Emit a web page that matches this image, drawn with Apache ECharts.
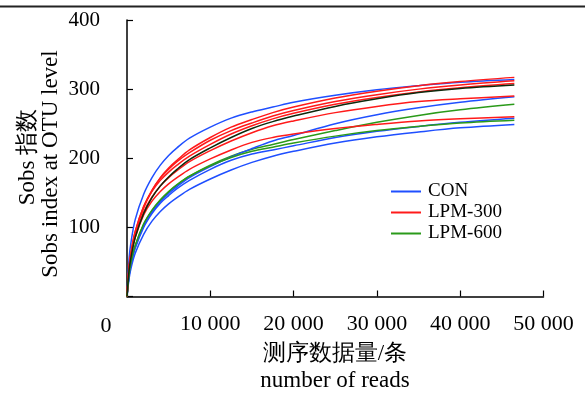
<!DOCTYPE html>
<html>
<head>
<meta charset="utf-8">
<script src="https://cdn.jsdelivr.net/npm/echarts@6/dist/echarts.min.js"></script>
<style>
html,body{margin:0;padding:0;background:#fff;}
#c{width:585px;height:398px;}
</style>
</head>
<body>
<div id="c"></div>
<script>
// sequencing depth (number of reads) at which each curve is sampled
const reads = [0, 250, 500, 1000, 2000, 3000, 4000, 5000, 6000, 7500, 10000, 12500, 15000, 17500, 20000, 25000, 30000, 35000, 40000, 46500];

// CON (blue)
const con1 = [0, 55, 80, 112, 148, 172, 190, 204, 215, 229, 245, 258, 267, 274, 281, 291, 299, 305, 310, 314];
const con2 = [0, 30, 48, 72, 102, 122, 137, 149, 159, 172, 188, 202, 214, 225, 233, 250, 263, 273, 281, 289];
const con3 = [0, 30, 47, 70, 100, 120, 135, 146, 156, 168, 184, 197, 206, 212, 218, 230, 239, 246, 252, 258];
const con4 = [0, 26, 42, 63, 90, 109, 123, 134, 143, 155, 170, 183, 194, 203, 210, 222, 231, 238, 244, 249];

// LPM-300 (red)
const lpm300a = [0, 40, 62, 92, 128, 153, 172, 186, 197, 212, 230, 245, 256, 266, 274, 287, 297, 305, 311, 317];
const lpm300b = [0, 42, 64, 94, 130, 154, 171, 184, 195, 208, 226, 240, 251, 261, 269, 282, 292, 300, 306, 312];
const lpm300c = [0, 44, 66, 95, 130, 152, 168, 180, 190, 203, 220, 235, 247, 257, 265, 278, 288, 296, 302, 308];
const lpm300d = [0, 40, 60, 88, 122, 144, 160, 172, 182, 195, 211, 225, 237, 247, 254, 266, 275, 282, 286, 290];
const lpm300e = [0, 40, 60, 86, 118, 138, 152, 163, 172, 184, 199, 212, 223, 230, 235, 243, 249, 254, 257, 260];

// LPM-600 (green, one drawn dark)
const lpm600a = [0, 32, 50, 74, 104, 124, 139, 151, 161, 174, 190, 203, 213, 220, 227, 240, 252, 262, 270, 278];
const lpm600b = [0, 32, 50, 74, 105, 125, 140, 152, 162, 174, 189, 201, 210, 216, 222, 232, 240, 246, 251, 255];
const lpm600c = [0, 38, 58, 86, 120, 143, 160, 173, 184, 198, 215, 230, 243, 253, 261, 275, 286, 295, 301, 306];

// axis ticks and texts
const xTicks = [0, 10000, 20000, 30000, 40000, 50000];
const yTicks = [0, 100, 200, 300, 400];
const groupNames = ['CON', 'LPM-300', 'LPM-600'];
const yTitle = ['Sobs 指数', 'Sobs index at OTU level'];
const xTitle = ['测序数据量/条', 'number of reads'];

const BLUE = '#1f4fff', RED = '#ff1a1a', GREEN = '#2a9a1a', DARK = '#0d2a0d';
const FONT = '"Liberation Serif","Times New Roman",serif';

function pts(vals) { return reads.map((r, i) => [r, vals[i]]); }
function mk(name, vals, color) {
  return {
    name: name, type: 'line', data: pts(vals), showSymbol: false, symbol: 'none',
    smooth: 0.35, color: color,
    lineStyle: { width: 1.5, color: color }, animation: false, silent: true
  };
}

const series = [
  mk('CON', con1, BLUE),
  mk('LPM-300', lpm300a, RED),
  mk('LPM-600', lpm600a, GREEN),
  mk('CON', con2, BLUE),
  mk('CON', con3, BLUE),
  mk('CON', con4, BLUE),
  mk('LPM-300', lpm300b, RED),
  mk('LPM-300', lpm300c, RED),
  mk('LPM-300', lpm300d, RED),
  mk('LPM-300', lpm300e, RED),
  mk('LPM-600', lpm600b, GREEN),
  mk('LPM-600', lpm600c, DARK)
];

const chart = echarts.init(document.getElementById('c'), null, { renderer: 'canvas' });
chart.setOption({
  animation: false,
  backgroundColor: '#fff',
  grid: { left: 127, right: 41.5, top: 20, bottom: 101.5, containLabel: false },
  legend: {
    data: groupNames, orient: 'vertical', left: 386, top: 177,
    icon: 'rect', itemWidth: 30, itemHeight: 2, itemGap: 2,
    textStyle: { fontFamily: FONT, fontSize: 19, lineHeight: 19, color: '#000', padding: [0, 0, 0, 2] },
    selectedMode: false
  },
  xAxis: {
    type: 'value', min: xTicks[0], max: xTicks[xTicks.length - 1], interval: 10000,
    axisLine: { lineStyle: { color: '#000', width: 1.5 } },
    axisTick: { inside: true, length: 6, lineStyle: { color: '#000', width: 1.2 } },
    splitLine: { show: false },
    axisLabel: {
      margin: 17, fontFamily: FONT, fontSize: 22, color: '#000',
      formatter: v => v === 0 ? '' : String(v).replace(/(\d)(?=(\d{3})+$)/g, '$1 ')
    }
  },
  yAxis: {
    type: 'value', min: yTicks[0], max: yTicks[yTicks.length - 1], interval: 100,
    axisLine: { show: true, lineStyle: { color: '#000', width: 1.5 } },
    axisTick: { show: true, inside: true, length: 6, lineStyle: { color: '#000', width: 1.2 } },
    splitLine: { show: false },
    axisLabel: { margin: 27, fontFamily: FONT, fontSize: 21, color: '#000', formatter: v => v === 0 ? '' : String(v) }
  },
  graphic: [
    { type: 'line', shape: { x1: 0, y1: 6.5, x2: 585, y2: 6.5 }, style: { stroke: '#222', lineWidth: 2 }, silent: true },
    { type: 'text', x: 106, y: 326, style: { text: '0', font: '22px ' + FONT, fill: '#000', align: 'center', verticalAlign: 'middle' }, silent: true },
    { type: 'text', x: 28, y: 157, rotation: Math.PI / 2, style: { text: yTitle[0], font: '23px ' + FONT, fill: '#000', align: 'center', verticalAlign: 'middle' }, silent: true },
    { type: 'text', x: 51, y: 164, rotation: Math.PI / 2, style: { text: yTitle[1], font: '23px ' + FONT, fill: '#000', align: 'center', verticalAlign: 'middle' }, silent: true },
    { type: 'text', x: 335, y: 354, style: { text: xTitle[0], font: '23px ' + FONT, fill: '#000', align: 'center', verticalAlign: 'middle' }, silent: true },
    { type: 'text', x: 335, y: 381, style: { text: xTitle[1], font: '23px ' + FONT, fill: '#000', align: 'center', verticalAlign: 'middle' }, silent: true }
  ],
  series: series
});
</script>
</body>
</html>
